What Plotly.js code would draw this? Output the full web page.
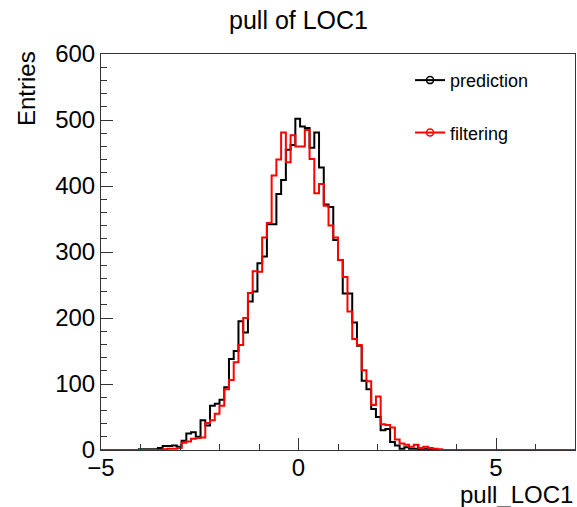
<!DOCTYPE html>
<html><head><meta charset="utf-8">
<script src="https://cdn.plot.ly/plotly-3.0.1.min.js"></script>
<style>html,body{margin:0;padding:0;background:#fff}</style>
</head><body><div id="chart" style="width:577px;height:507px"></div>
<script>
const binLow = -5;
const binWidth = 0.12;
const seriesNames = ["prediction", "filtering"];
const prediction = [
  0,0,0,0,0,0,0,0,1,1,
  1,1,3,6,6,7,5,14,25,27,
  20,45,37,67,70,76,95,138,150,195,
  178,225,240,283,293,342,342,388,409,455,
  462,502,490,488,458,481,428,372,368,318,
  288,237,237,193,158,105,92,62,50,30,
  32,12,7,2,4,2,2,1,2,1,
  0,0,0,0,0,0,0,0,0,0,
  0,0,0,0,0,0,0,0,0,0,
  0,0,0,0,0,0,0,0,0,0
];
const filtering = [
  0,0,0,0,0,0,0,0,0,0,
  0,0,0,1,2,2,3,11,13,17,
  18,19,41,45,55,67,92,106,133,159,
  200,238,271,270,322,344,416,440,481,436,
  477,460,460,485,441,389,403,370,340,322,
  288,262,210,168,159,121,104,68,81,39,
  38,34,16,10,8,5,8,3,5,3,
  2,1,0,0,0,0,0,0,0,0,
  0,0,0,0,0,0,0,0,0,0,
  0,0,0,0,0,0,0,0,0,0
];
const colors = ["#000000", "#ff0000"];
const xTicks = [-5, 0, 5];
const yTicks = [0, 100, 200, 300, 400, 500, 600];

function stepXY(counts) {
  const xs = [], ys = [];
  for (let i = 0; i <= counts.length; i++) {
    xs.push(+(binLow + i * binWidth).toFixed(4));
    ys.push(counts[Math.min(i, counts.length - 1)]);
  }
  return {xs, ys};
}

const FONT = "Liberation Sans, Arial, Helvetica, sans-serif";
const data = [];
[prediction, filtering].forEach((c, i) => {
  const s = stepXY(c);
  data.push({type: "scatter", mode: "lines", x: s.xs, y: s.ys,
    line: {shape: "hv", color: colors[i], width: 2},
    showlegend: false, hoverinfo: "skip"});
});
[0, 1].forEach(i => {
  data.push({type: "scatter", mode: "lines+markers", x: [null], y: [null],
    name: seriesNames[i], legendgroup: "g" + i,
    line: {color: colors[i], width: 2},
    marker: {symbol: "circle-open", size: 7, color: colors[i], line: {width: 1.5, color: colors[i]}},
    showlegend: true});
});

const axisCommon = {
  showgrid: false, zeroline: false, showline: true, mirror: true,
  linecolor: "#333", linewidth: 1, ticks: "inside", ticklen: 12, tickwidth: 1, tickcolor: "#333",
  tickfont: {family: FONT, size: 24, color: "#000"}, fixedrange: true
};

const layout = {
  width: 577, height: 507,
  margin: {l: 101, r: 2, t: 54, b: 57},
  paper_bgcolor: "#fff", plot_bgcolor: "#fff",
  font: {family: FONT, color: "#000"},
  title: {text: "pull of LOC1", font: {family: FONT, size: 25, color: "#000"},
    x: 298.5 / 577, xanchor: "center", xref: "container", yref: "container", y: 1 - 20.6 / 507, yanchor: "middle"},
  xaxis: Object.assign({}, axisCommon, {range: [-5, 7], tickvals: xTicks, ticklabelstandoff: -4,
    minor: {dtick: 1, tick0: 0, ticklen: 6, ticks: "inside", tickcolor: "#333", showgrid: false}}),
  yaxis: Object.assign({}, axisCommon, {range: [0, 600], tickvals: yTicks,
    minor: {dtick: 20, tick0: 0, ticklen: 6, ticks: "inside", tickcolor: "#333", showgrid: false}}),
  legend: {x: 0.652, y: 0.98, xanchor: "left", yanchor: "top", bgcolor: "rgba(0,0,0,0)",
    font: {family: FONT, size: 18, color: "#000"}, traceorder: "grouped", tracegroupgap: 26},
  annotations: [
    {text: "Entries", textangle: -90, xref: "paper", yref: "paper", x: (27 - 101) / 474, y: (450 - 89) / 396,
      xanchor: "center", yanchor: "middle", showarrow: false, font: {family: FONT, size: 24, color: "#000"}},
    {text: "pull_LOC1", xref: "paper", yref: "paper", x: 1, y: (450 - 494) / 396,
      xanchor: "right", yanchor: "middle", showarrow: false, font: {family: FONT, size: 24, color: "#000"}}
  ]
};

Plotly.newPlot("chart", data, layout, {displayModeBar: false, staticPlot: true});
</script></body></html>
